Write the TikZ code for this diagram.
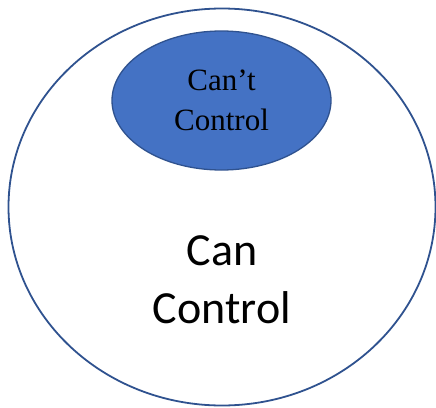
\documentclass[tikz,border=0pt]{standalone}
\usepackage{fontspec}
\setmainfont{Liberation Serif}
\newfontfamily\calibrifont{Carlito}
\usetikzlibrary{shapes}
\definecolor{ringBlue}{HTML}{2F528F}
\definecolor{fillBlue}{HTML}{4472C4}

\begin{document}
\begin{tikzpicture}[x = 1pt, y = -1pt]
	\tikzstyle{outerStyle} = [shape = ellipse, draw = ringBlue, line width = 1.8pt, minimum width = 427pt, minimum height = 397pt, inner sep = 0pt]
	\tikzstyle{innerStyle} = [shape = ellipse, draw = ringBlue, line width = 1.3pt, fill = fillBlue, minimum width = 219pt, minimum height = 139pt, inner sep = 0pt, align = center, font = \fontsize{31}{40}\selectfont]
	\tikzstyle{canStyle} = [align = center, inner sep = 0pt, font = \calibrifont\fontsize{46}{58}\selectfont]
	\useasboundingbox (0, 0) rectangle (436, 407);
	\node[outerStyle] (can) at (222, 207) {};
	\node[innerStyle] (cant) at (221.5, 100.5) {Can’t\\Control};
	\node[canStyle] (canText) at (222, 280) {Can\\Control};
\end{tikzpicture}
\end{document}
